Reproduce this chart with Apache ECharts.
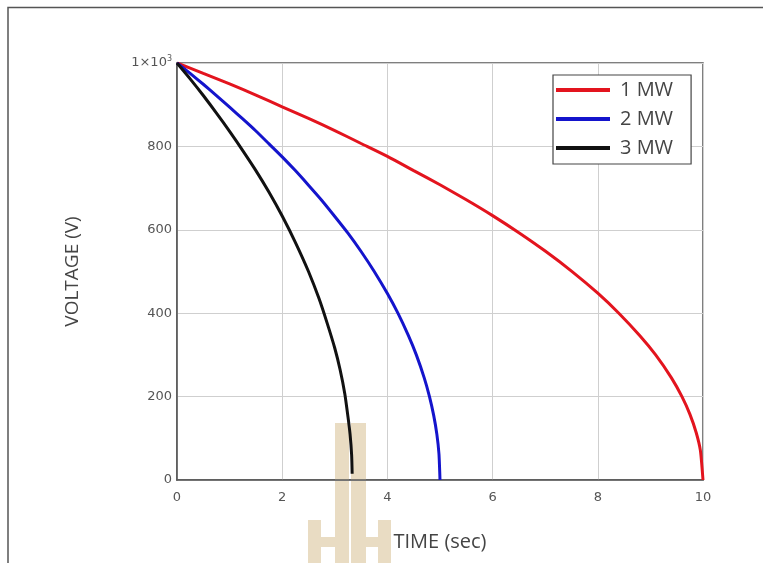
<!DOCTYPE html>
<html><head><meta charset="utf-8">
<script src="https://cdn.jsdelivr.net/npm/echarts@6/dist/echarts.min.js"></script>
<style>html,body{margin:0;padding:0;background:#fff}#c{width:763px;height:563px}</style>
</head><body><div id="c"></div>
<script>
const seriesNames = ['1 MW', '2 MW', '3 MW'];
const xTicks = [0, 2, 4, 6, 8, 10];
const yTicks = [0, 200, 400, 600, 800, 1000];

const time1MW = [0, 0.5, 1, 1.5, 2, 2.5, 3, 3.5, 4, 4.5, 5, 5.5, 6, 6.5, 7, 7.5, 8, 8.4, 8.8, 9.1, 9.4, 9.6, 9.75, 9.87, 9.95, 10];
const volt1MW = [1000, 975, 950, 923, 895, 867, 838, 807, 776, 742, 708, 672, 634, 593, 549, 501, 448, 400, 346, 300, 245, 200, 158, 114, 71, 0];

const time2MW = [0, 0.25, 0.5, 0.75, 1, 1.25, 1.5, 1.75, 2, 2.25, 2.5, 2.75, 3, 3.25, 3.5, 3.75, 4, 4.2, 4.4, 4.55, 4.7, 4.8, 4.88, 4.94, 4.98, 5];
const volt2MW = [1000, 975, 949, 922, 894, 866, 837, 806, 775, 742, 707, 671, 632, 592, 548, 500, 447, 400, 346, 300, 245, 200, 155, 110, 63, 0];

const time3MW = [0, 0.25, 0.5, 0.75, 1, 1.25, 1.5, 1.75, 2, 2.25, 2.5, 2.7, 2.85, 3.0, 3.1, 3.19, 3.25, 3.29, 3.32, 3.33];
const volt3MW = [1000, 962, 922, 880, 836, 790, 742, 690, 633, 570, 500, 435, 378, 316, 265, 207, 152, 110, 60, 15];

const seriesData = [
  time1MW.map((t, i) => [t, volt1MW[i]]),
  time2MW.map((t, i) => [t, volt2MW[i]]),
  time3MW.map((t, i) => [t, volt3MW[i]])
];
const colors = ['#e3141e', '#1414cc', '#111111'];

const chart = echarts.init(document.getElementById('c'), null, {renderer: 'canvas'});
const tan = '#e9dcc3';
chart.setOption({
  animation: false,
  backgroundColor: '#fff',
  grid: {left: 177, top: 63, width: 526, height: 417, show: true, borderColor: '#555', borderWidth: 1.5},
  legend: {
    data: seriesNames, orient: 'vertical', left: 553, top: 75,
    icon: 'rect', itemWidth: 54, itemHeight: 4, itemGap: 7,
    backgroundColor: '#fff', borderColor: '#444', borderWidth: 1.2,
    padding: [4, 18, 5, 3],
    textStyle: {fontFamily: 'Open Sans', fontSize: 20, color: '#444', lineHeight: 22, padding: [0, 0, 0, 5]}
  },
  xAxis: {
    type: 'value', min: 0, max: 10, interval: 2,
    name: 'TIME (sec)', nameLocation: 'middle', nameGap: 52,
    nameTextStyle: {fontFamily: 'Open Sans', fontSize: 20, color: '#444'},
    axisLine: {show: true, lineStyle: {color: '#555', width: 1.5}},
    axisTick: {show: false},
    axisLabel: {margin: 11, color: '#555', fontSize: 13, fontFamily: 'DejaVu Sans',
      formatter: v => xTicks.includes(v) ? String(v) : ''},
    splitLine: {show: true, lineStyle: {color: '#cfcfcf', width: 1}}
  },
  yAxis: {
    type: 'value', min: 0, max: 1000, interval: 200,
    name: 'VOLTAGE (V)', nameLocation: 'middle', nameGap: 95,
    nameTextStyle: {fontFamily: 'Open Sans', fontSize: 19, color: '#444'},
    axisLine: {show: true, lineStyle: {color: '#555', width: 1.5}},
    axisTick: {show: false},
    axisLabel: {margin: 5, color: '#555', fontSize: 13, fontFamily: 'DejaVu Sans',
      formatter: v => v === 1000 ? '1×10{sup|3}' : (yTicks.includes(v) ? String(v) : ''),
      rich: {sup: {fontSize: 8, color: '#555', fontFamily: 'DejaVu Sans', padding: [0, 0, 8, 0]}}},
    splitLine: {show: true, lineStyle: {color: '#cfcfcf', width: 1}}
  },
  series: seriesNames.map((n, i) => ({
    name: n, type: 'line', data: seriesData[i], showSymbol: false, symbol: 'none',
    smooth: 0.2, lineStyle: {color: colors[i], width: 3}, itemStyle: {color: colors[i]}, z: 3
  })),
  graphic: [
    {type: 'polyline', shape: {points: [[8, 563], [8, 7.5], [763, 7.5]]}, style: {stroke: '#555', lineWidth: 1.5, fill: null}, z: 10},
    {type: 'rect', shape: {x: 335, y: 423, width: 14, height: 140}, style: {fill: tan}, z: 0},
    {type: 'rect', shape: {x: 351, y: 423, width: 15, height: 140}, style: {fill: tan}, z: 0},
    {type: 'rect', shape: {x: 308, y: 520, width: 13, height: 43}, style: {fill: tan}, z: 0},
    {type: 'rect', shape: {x: 308, y: 537, width: 27, height: 10}, style: {fill: tan}, z: 0},
    {type: 'rect', shape: {x: 378, y: 520, width: 13, height: 43}, style: {fill: tan}, z: 0},
    {type: 'rect', shape: {x: 366, y: 537, width: 25, height: 10}, style: {fill: tan}, z: 0}
  ]
});
</script></body></html>
